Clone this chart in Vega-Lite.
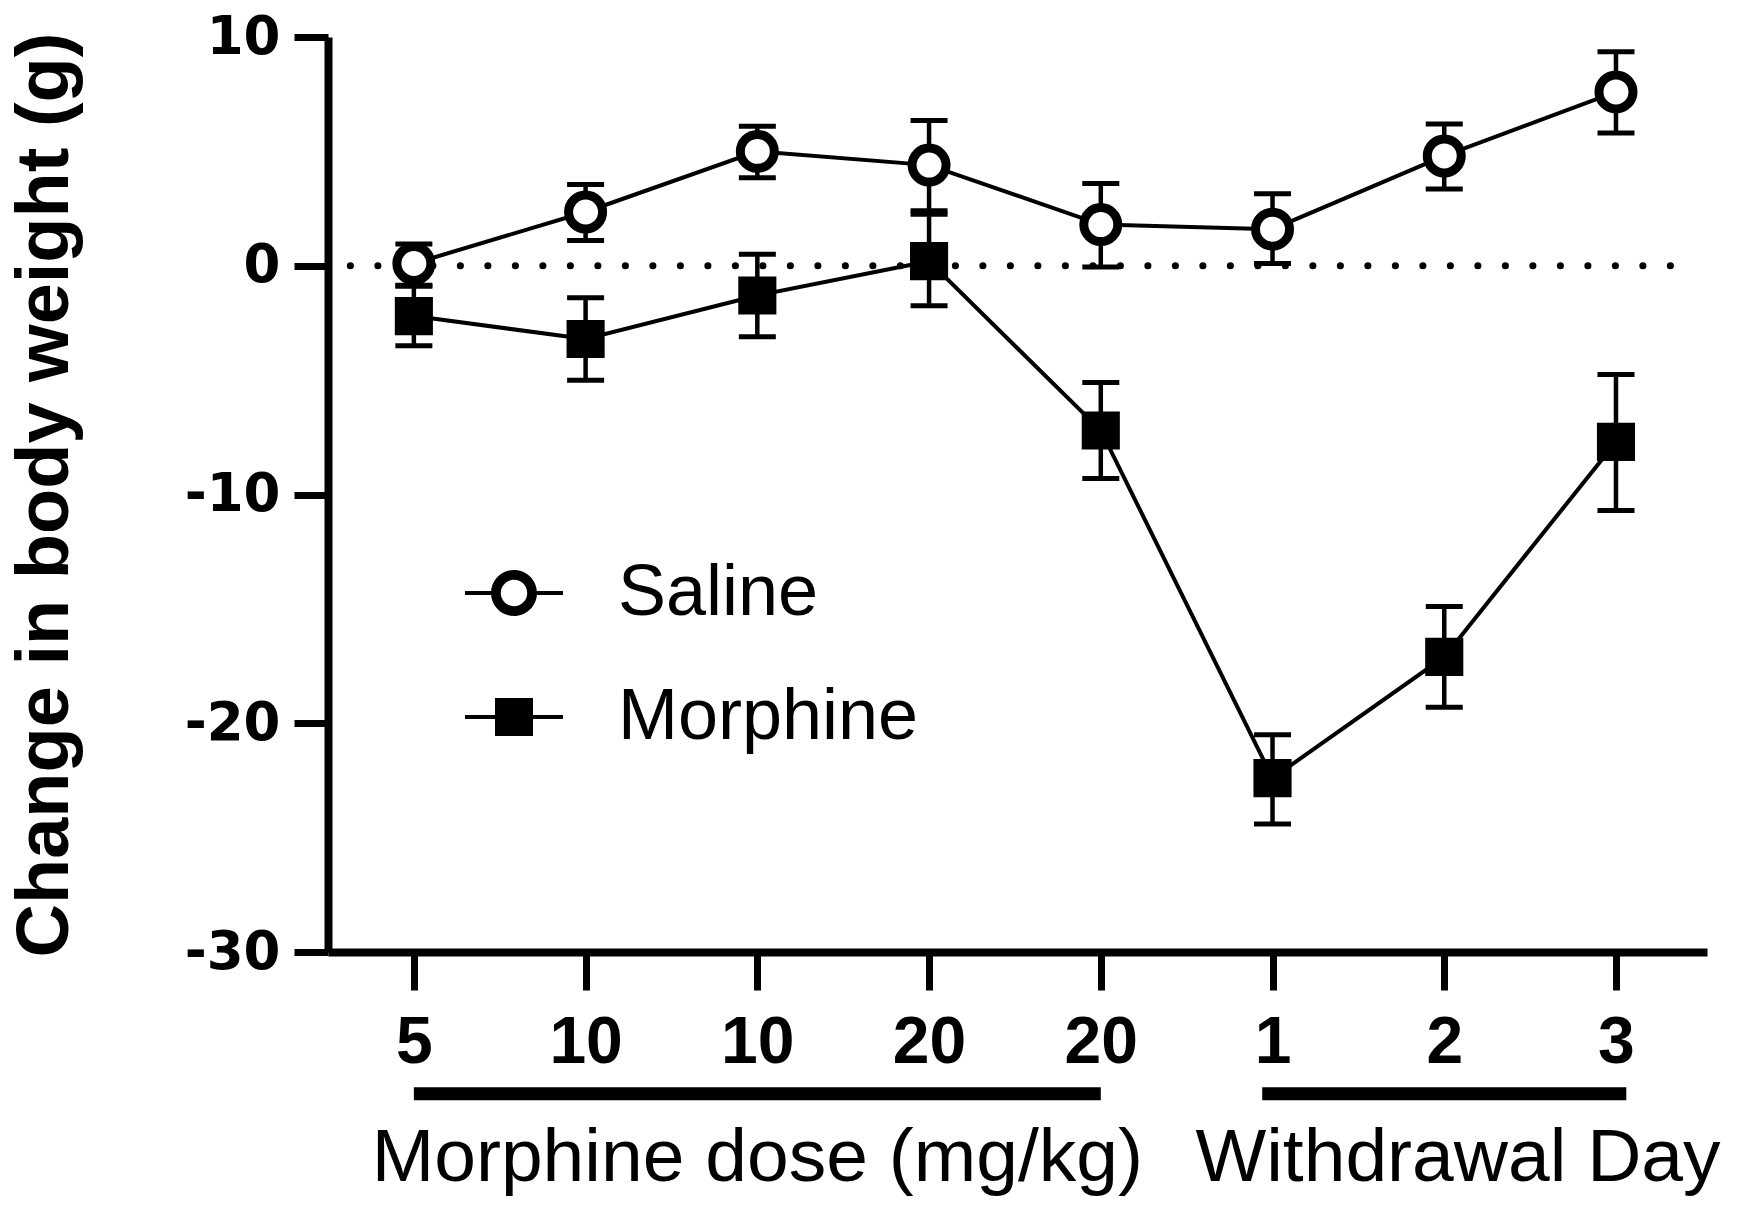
{
  "$schema": "https://vega.github.io/schema/vega-lite/v6.json",
  "width": 1379,
  "height": 915,
  "autosize": {"type": "none"},
  "padding": {"left": 328, "top": 37, "right": 34, "bottom": 261},
  "background": "white",
  "datasets": {
    "series": [
      {"i": 0, "group": "Morphine", "mean": -2.2, "lo": -3.5, "hi": -0.9},
      {"i": 1, "group": "Morphine", "mean": -3.2, "lo": -5.0, "hi": -1.4},
      {"i": 2, "group": "Morphine", "mean": -1.3, "lo": -3.1, "hi": 0.5},
      {"i": 3, "group": "Morphine", "mean": 0.2, "lo": -1.75, "hi": 2.25},
      {"i": 4, "group": "Morphine", "mean": -7.2, "lo": -9.3, "hi": -5.1},
      {"i": 5, "group": "Morphine", "mean": -22.4, "lo": -24.4, "hi": -20.5},
      {"i": 6, "group": "Morphine", "mean": -17.1, "lo": -19.3, "hi": -14.9},
      {"i": 7, "group": "Morphine", "mean": -7.7, "lo": -10.7, "hi": -4.75},
      {"i": 0, "group": "Saline", "mean": 0.1, "lo": -0.85, "hi": 0.95},
      {"i": 1, "group": "Saline", "mean": 2.35, "lo": 1.1, "hi": 3.55},
      {"i": 2, "group": "Saline", "mean": 5.0, "lo": 3.85, "hi": 6.1},
      {"i": 3, "group": "Saline", "mean": 4.4, "lo": 2.4, "hi": 6.35},
      {"i": 4, "group": "Saline", "mean": 1.8, "lo": -0.05, "hi": 3.6},
      {"i": 5, "group": "Saline", "mean": 1.6, "lo": 0.1, "hi": 3.15},
      {"i": 6, "group": "Saline", "mean": 4.8, "lo": 3.35, "hi": 6.2},
      {"i": 7, "group": "Saline", "mean": 7.6, "lo": 5.8, "hi": 9.35}
    ],
    "groups": [
      {"group": "Morphine dose (mg/kg)", "start": 0, "end": 4, "center": 2},
      {"group": "Withdrawal Day", "start": 4.94, "end": 7.06, "center": 6.08}
    ]
  },
  "layer": [
    {
      "data": {"values": [{"ref": 0}]},
      "mark": {"type": "rule", "color": "black", "strokeWidth": 7, "strokeCap": "round", "strokeDash": [0.1, 27.4]},
      "encoding": {
        "x": {"datum": -0.37, "type": "quantitative", "title": null},
        "x2": {"datum": 7.37},
        "y": {"field": "ref", "type": "quantitative", "title": "Change in body weight (g)"}
      }
    },
    {
      "data": {"name": "series"},
      "mark": {"type": "line", "color": "black", "strokeWidth": 4},
      "encoding": {
        "x": {"field": "i", "type": "quantitative", "scale": {"domain": [-0.5, 7.53], "nice": false, "zero": false}, "title": null,
          "axis": {"values": [0, 1, 2, 3, 4, 5, 6, 7], "labelExpr": "['5','10','10','20','20','1','2','3'][datum.value]", "title": null,
            "domainWidth": 8, "domainColor": "black", "tickWidth": 7, "tickColor": "black", "tickSize": 38, "labelPadding": 20,
            "labelFont": "Liberation Sans", "labelFontWeight": "bold", "labelFontSize": 66, "labelColor": "black",
            "labelFlush": false, "labelOverlap": false, "grid": false}},
        "y": {"field": "mean", "type": "quantitative", "scale": {"domain": [-30, 10], "nice": false}, "title": "Change in body weight (g)",
          "axis": {"values": [-30, -20, -10, 0, 10], "labelExpr": "'' + datum.value", "title": "Change in body weight (g)",
            "domainWidth": 8, "domainColor": "black", "tickWidth": 7, "tickColor": "black", "tickSize": 34, "labelPadding": 14,
            "labelFont": "DejaVu Sans", "labelFontWeight": "bold", "labelFontSize": 53, "labelColor": "black",
            "labelFlush": false, "labelOverlap": false, "grid": false,
            "titleFont": "Liberation Sans", "titleFontWeight": "bold", "titleFontSize": 74, "titleColor": "black",
            "titleX": -261, "titleY": 457.5, "titleAngle": 270, "titleBaseline": "alphabetic", "titleAlign": "center"}},
        "detail": {"field": "group"}
      }
    },
    {
      "data": {"name": "series"},
      "mark": {"type": "rule", "color": "black", "strokeWidth": 4.5},
      "encoding": {
        "x": {"field": "i", "type": "quantitative", "title": null},
        "y": {"field": "lo", "type": "quantitative", "title": "Change in body weight (g)"},
        "y2": {"field": "hi"}
      }
    },
    {
      "data": {"name": "series"},
      "mark": {"type": "tick", "color": "black", "orient": "horizontal", "size": 37, "thickness": 5, "opacity": 1},
      "encoding": {
        "x": {"field": "i", "type": "quantitative", "title": null},
        "y": {"field": "lo", "type": "quantitative", "title": "Change in body weight (g)"}
      }
    },
    {
      "data": {"name": "series"},
      "mark": {"type": "tick", "color": "black", "orient": "horizontal", "size": 37, "thickness": 5, "opacity": 1},
      "encoding": {
        "x": {"field": "i", "type": "quantitative", "title": null},
        "y": {"field": "hi", "type": "quantitative", "title": "Change in body weight (g)"}
      }
    },
    {
      "data": {"name": "series"},
      "transform": [{"filter": "datum.group === 'Morphine'"}],
      "mark": {"type": "point", "shape": "M-0.97,-0.97H0.97V0.97H-0.97Z", "fill": "black", "stroke": "black", "strokeWidth": 9, "opacity": 1, "fillOpacity": 1, "size": 900},
      "encoding": {
        "x": {"field": "i", "type": "quantitative", "title": null},
        "y": {"field": "mean", "type": "quantitative", "title": "Change in body weight (g)"}
      }
    },
    {
      "data": {"name": "series"},
      "transform": [{"filter": "datum.group === 'Saline'"}],
      "mark": {"type": "point", "shape": "M-1.133,0A1.133,1.133,0,1,1,1.133,0A1.133,1.133,0,1,1,-1.133,0Z", "fill": "white", "stroke": "black", "strokeWidth": 9, "opacity": 1, "fillOpacity": 1, "size": 900},
      "encoding": {
        "x": {"field": "i", "type": "quantitative", "title": null},
        "y": {"field": "mean", "type": "quantitative", "title": "Change in body weight (g)"}
      }
    },
    {
      "data": {"name": "series"},
      "transform": [{"filter": "false"}],
      "mark": {"type": "point", "filled": true, "fill": "black", "stroke": "transparent", "strokeWidth": 0, "opacity": 1, "size": 400},
      "encoding": {
        "x": {"field": "i", "type": "quantitative", "title": null},
        "y": {"field": "mean", "type": "quantitative", "title": "Change in body weight (g)"},
        "shape": {"field": "group", "type": "nominal",
          "scale": {"domain": ["Saline", "Morphine"], "range": [
            "M-2.3,0A2.3,2.3,0,1,1,2.3,0A2.3,2.3,0,1,1,-2.3,0ZM-1.32,0A1.32,1.32,0,1,0,1.32,0A1.32,1.32,0,1,0,-1.32,0ZM-4.9,-0.2H-2.2V0.2H-4.9ZM2.2,-0.2H4.9V0.2H2.2Z",
            "M-1.9,-1.9H1.9V1.9H-1.9ZM-4.9,-0.2H-1.8V0.2H-4.9ZM1.8,-0.2H4.9V0.2H1.8Z"]},
          "legend": {"title": null, "orient": "none", "legendX": 150, "legendY": 520, "symbolSize": 400, "padding": 0,
            "symbolFillColor": "black", "symbolStrokeColor": "transparent", "symbolStrokeWidth": 0, "symbolOpacity": 1,
            "labelFont": "Liberation Sans", "labelFontSize": 72, "labelColor": "black", "labelLimit": 1000,
            "labelOffset": 68, "rowPadding": 52}}
      }
    },
    {
      "data": {"name": "groups"},
      "mark": {"type": "rule", "color": "black", "strokeWidth": 13, "strokeCap": "butt"},
      "encoding": {
        "x": {"field": "start", "type": "quantitative", "title": null},
        "x2": {"field": "end"},
        "y": {"datum": -36.2, "type": "quantitative", "title": "Change in body weight (g)"}
      }
    },
    {
      "data": {"name": "groups"},
      "mark": {"type": "text", "color": "black", "font": "Liberation Sans", "fontSize": 75, "align": "center", "baseline": "alphabetic"},
      "encoding": {
        "x": {"field": "center", "type": "quantitative", "title": null},
        "y": {"datum": -40, "type": "quantitative", "title": "Change in body weight (g)"},
        "text": {"field": "group"}
      }
    }
  ],
  "config": {
    "view": {"stroke": null},
    "font": "Liberation Sans"
  }
}
